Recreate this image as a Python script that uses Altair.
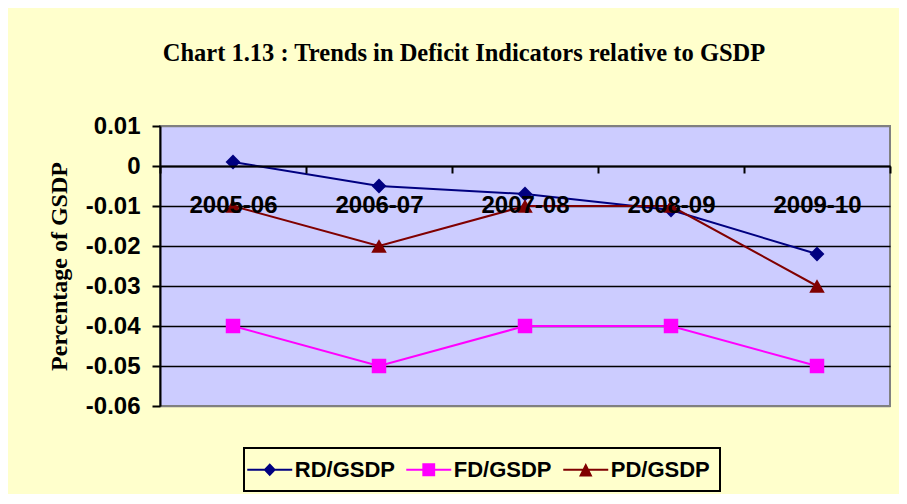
import altair as alt
import pandas as pd

years = ["2005-06", "2006-07", "2007-08", "2008-09", "2009-10"]
series = ["RD/GSDP", "FD/GSDP", "PD/GSDP"]
rd_vals = [0.001, -0.005, -0.007, -0.011, -0.022]
fd_vals = [-0.04, -0.05, -0.04, -0.04, -0.05]
pd_vals = [-0.01, -0.02, -0.01, -0.01, -0.03]
colors = ["#000080", "#FF00FF", "#800000"]
y_ticks = [0.01, 0, -0.01, -0.02, -0.03, -0.04, -0.05, -0.06]

rows = []
for s, vals in zip(series, [rd_vals, fd_vals, pd_vals]):
    for yr, v in zip(years, vals):
        rows.append({"year": yr, "series": s, "value": v})
df = pd.DataFrame(rows)

SANS = "Liberation Sans"
SERIF = "Liberation Serif"

x_enc = alt.X(
    "year:N",
    sort=years,
    scale=alt.Scale(type="band", paddingInner=0, paddingOuter=0),
    axis=alt.Axis(
        title=None, orient="bottom", offset=-240, tickBand="extent",
        tickSize=7, tickWidth=2, tickColor="black",
        domainColor="black", domainWidth=2,
        labelFont=SANS, labelFontSize=24, labelFontWeight="bold",
        labelColor="black", labelPadding=20, labelAngle=0, grid=False,
        zindex=1,
    ),
)
y_enc = alt.Y(
    "value:Q",
    scale=alt.Scale(domain=[-0.06, 0.01], nice=False, zero=False),
    axis=alt.Axis(
        values=y_ticks,
        labelExpr="(datum.value < 0 ? '-' : '') + format(abs(datum.value), '.2~f')",
        title="Percentage of GSDP", titleFont=SERIF, titleFontSize=24,
        titleFontWeight="bold", titleColor="black", titlePadding=14,
        tickSize=8, tickWidth=2, tickColor="black",
        domainColor="black", domainWidth=2,
        labelFont=SANS, labelFontSize=24, labelFontWeight="bold",
        labelColor="black", labelPadding=12,
        grid=True, gridWidth=1.5,
        gridColor={"condition": {"test": "datum.value > 0.005 || datum.value < -0.055",
                                 "value": "#808080"}, "value": "black"},
    ),
)

base = alt.Chart(df)

marker_specs = [("diamond", 220), ("square", 210), ("triangle-up", 240)]
line_layers = []
point_layers = []
for s, c, (shp, sz) in zip(series, colors, marker_specs):
    sub = base.transform_filter(alt.datum.series == s)
    line_layers.append(sub.mark_line(strokeWidth=2, color=c).encode(x=x_enc, y=y_enc))
    point_layers.append(
        sub.mark_point(filled=True, shape=shp, size=sz, opacity=1, color=c)
        .encode(x=x_enc, y=y_enc)
    )

legend_paths = [
    "M-2,-0.09L2,-0.09L2,0.09L-2,0.09Z M0,-0.58L0.55,0L0,0.58L-0.55,0Z",
    "M-2,-0.09L2,-0.09L2,0.09L-2,0.09Z M-0.57,-0.57L0.57,-0.57L0.57,0.57L-0.57,0.57Z",
    "M-2,-0.09L2,-0.09L2,0.09L-2,0.09Z M0,-0.6L0.6,0.6L-0.6,0.6Z",
]

leg = alt.Legend(
    title=None, orient="none", legendX=84, legendY=322, direction="horizontal",
    symbolSize=506, symbolOffset=4.25, labelOffset=13.5, columnPadding=11,
    padding=10, strokeColor="black", fillColor="#FFFFCC",
    labelFont=SANS, labelFontSize=22, labelFontWeight="bold", labelColor="black",
    symbolStrokeWidth=0, symbolOpacity=1,
)

legend_layer = base.transform_filter("false").mark_point(filled=True, size=506, opacity=1).encode(
    x=x_enc, y=y_enc,
    color=alt.Color("series:N", scale=alt.Scale(domain=series, range=colors), legend=leg),
    shape=alt.Shape("series:N", scale=alt.Scale(domain=series, range=legend_paths), legend=leg),
)

chart = alt.layer(*line_layers, *point_layers, legend_layer).properties(
    width=730, height=280,
    autosize=alt.AutoSizeParams(type="none"),
    padding={"left": 152, "top": 118, "right": 9, "bottom": 88},
    title=alt.Title(
        "Chart 1.13 : Trends in Deficit Indicators relative to GSDP",
        font=SERIF, fontSize=24.5, fontWeight="bold", color="black",
        anchor="middle", dx=-61, offset=48,
    ),
).configure(
    background="#FFFFCC",
).configure_view(
    fill="#CCCCFF", stroke="#808080", strokeWidth=2,
).configure_legend(
    strokeWidth=2,
)

chart.save("out.html", embed_options={"renderer": "svg", "actions": False})
